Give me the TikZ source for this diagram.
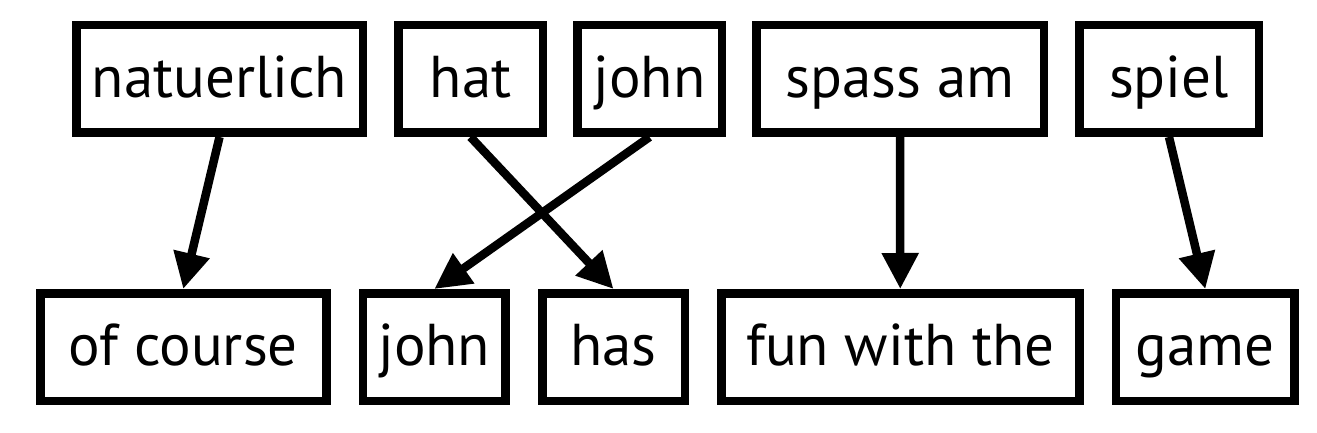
\documentclass[tikz,border=0pt]{standalone}
\usepackage{fontspec}
\setmainfont{PT Sans}
\usetikzlibrary{arrows.meta}
\begin{document}
\begin{tikzpicture}[x=1pt,y=-1pt,
  wbox/.style={draw=black, line width=8.5pt, inner sep=0pt, minimum height=107.5pt,
    text height=40pt, text depth=3pt, font=\fontsize{59}{64}\selectfont},
  link/.style={line width=8.5pt, -{Triangle[length=36pt,width=35pt]}}]
\fill[white] (0,0) rectangle (1317,433);
\useasboundingbox (0,0) rectangle (1317,433);
% top row
\node[wbox, minimum width=286.5pt] (nat) at (219.5,79) {natuerlich};
\node[wbox, minimum width=144.5pt] (hat) at (470.5,79) {hat};
\node[wbox, minimum width=144.5pt] (johnde) at (649.5,79) {john};
\node[wbox, minimum width=287.5pt] (spass) at (900,79) {spass am};
\node[wbox, minimum width=179.5pt] (spiel) at (1169,79) {spiel};
% bottom row
\node[wbox, minimum width=286pt] (course) at (183.25,347) {of course};
\node[wbox, minimum width=142.8pt] (johnen) at (434.3,347) {john};
\node[wbox, minimum width=142.5pt] (has) at (613.5,347) {has};
\node[wbox, minimum width=358pt] (fun) at (900.25,347) {fun with the};
\node[wbox, minimum width=178.8pt] (game) at (1205.3,347) {game};
% links
\draw[link] (nat.south) -- (course.north);
\draw[link] (hat.south) -- (has.north);
\draw[link] (johnde.south) -- (johnen.north);
\draw[link] (spass.south) -- (fun.north);
\draw[link] (spiel.south) -- (game.north);
\end{tikzpicture}
\end{document}
